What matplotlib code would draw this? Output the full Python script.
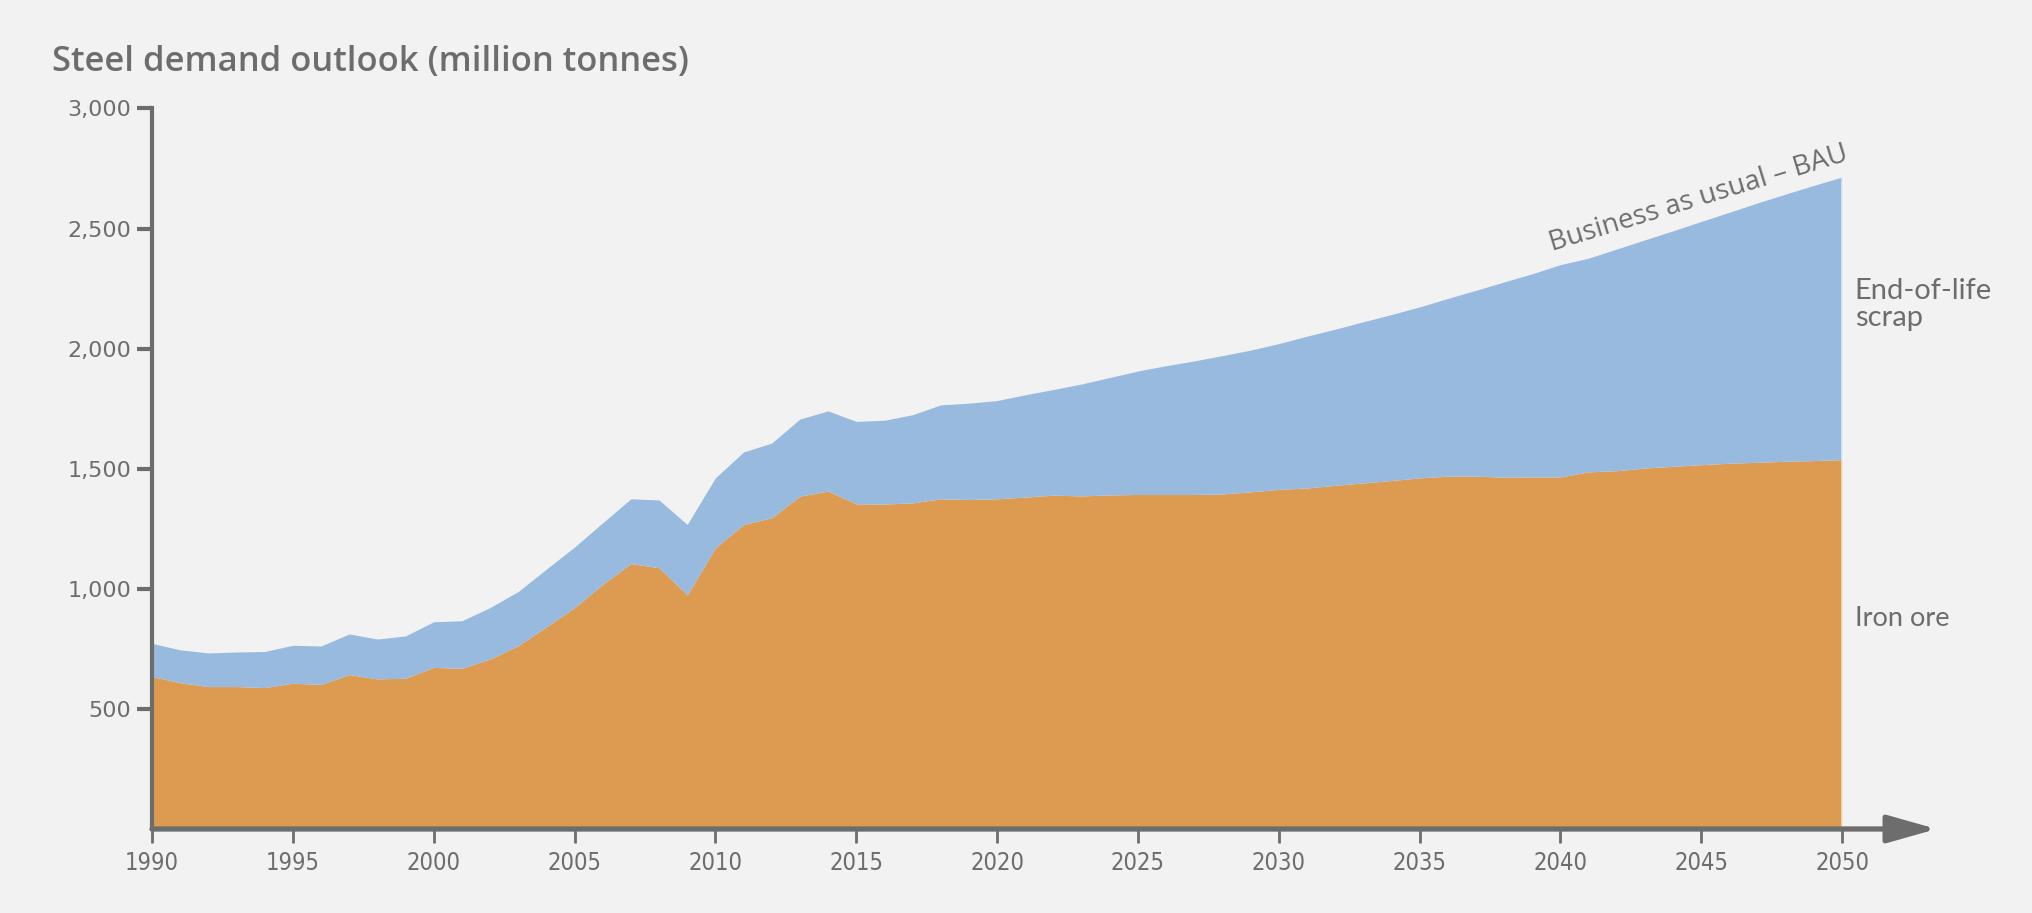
import matplotlib.pyplot as plt
import numpy as np

years = np.arange(1990, 2051)

# total steel demand, BAU (top of the blue band), million tonnes
total = [773, 746, 733, 737, 739, 765, 762, 812, 791, 804,
         863, 867, 922, 989, 1082, 1174, 1275, 1375, 1370, 1268,
         1462, 1570, 1607, 1707, 1741, 1697, 1702, 1725, 1766, 1773,
         1784, 1808, 1830, 1853, 1880, 1907, 1929, 1949, 1971, 1994,
         2021, 2052, 2081, 2112, 2142, 2174, 2209, 2243, 2278, 2312,
         2350, 2377, 2415, 2453, 2491, 2530, 2568, 2607, 2644, 2680,
         2715]

# iron ore based part (orange)
iron_ore = [635, 609, 593, 593, 589, 607, 602, 643, 625, 628,
            673, 669, 708, 763, 842, 922, 1019, 1105, 1088, 975,
            1171, 1268, 1296, 1386, 1407, 1354, 1353, 1358, 1375, 1372,
            1375, 1382, 1390, 1387, 1391, 1393, 1393, 1393, 1395, 1404,
            1414, 1420, 1431, 1441, 1451, 1462, 1469, 1469, 1465, 1466,
            1466, 1487, 1492, 1503, 1510, 1517, 1523, 1527, 1531, 1534,
            1538]

xticks = np.arange(1990, 2051, 5)
yticks = [500, 1000, 1500, 2000, 2500, 3000]

bg = '#f2f2f2'
grey = '#6d6d6d'
orange = '#dd9b52'
blue = '#98badf'

fig = plt.figure(figsize=(20.33, 9.13), dpi=100, facecolor=bg)
ax = fig.add_axes([152 / 2033, 84 / 913, 1800 / 2033, 720.5 / 913])
ax.set_facecolor(bg)

ax.fill_between(years, 0, iron_ore, color=orange, lw=0, zorder=2)
ax.fill_between(years, iron_ore, total, color=blue, lw=0, zorder=2)
ax.vlines(years[-1], 0, total[-1], color='white', lw=2, alpha=0.6, zorder=2)

ax.set_xlim(1990, 2053.9)
ax.set_ylim(0, 3000)

for s in ['top', 'right', 'bottom']:
    ax.spines[s].set_visible(False)
ax.spines['left'].set_bounds(0, 3000)
ax.spines['left'].set_color(grey)
ax.spines['left'].set_linewidth(3)
ax.spines['left'].set_zorder(4)

# x axis with arrow
ax.annotate('', xy=(2053.35, 0), xytext=(1990, 0),
            arrowprops=dict(arrowstyle='-|>,head_length=3.0,head_width=0.85',
                            lw=3.8, color=grey, shrinkA=0, shrinkB=0),
            annotation_clip=False, zorder=5)

ax.set_xticks(xticks)
ax.set_xticklabels([str(x) for x in xticks], family='DejaVu Sans',
                   stretch='condensed', fontsize=17)
ax.set_yticks(yticks)
ax.set_yticklabels(['{:,}'.format(y) for y in yticks], family='DejaVu Sans', fontsize=16)
ax.tick_params(axis='x', length=10, width=2, color=grey, labelcolor=grey, pad=6)
ax.tick_params(axis='y', length=11, width=3, color=grey, labelcolor=grey, pad=4)

fig.text(52 / 2033, 1 - 62 / 913, 'Steel demand outlook (million tonnes)',
         fontsize=24.8, color=grey, family='Open Sans', weight='semibold', va='center')

ax.text(2050.45, 2182, 'End-of-life\nscrap', fontsize=21, color=grey,
        family='Lato', ha='left', va='center', linespacing=1.05)
ax.text(2050.45, 875, 'Iron ore', fontsize=19.5, color=grey,
        family='Lato', ha='left', va='center')
ax.text(2044.9, 2625, 'Business as usual \u2013 BAU', fontsize=20, color=grey,
        family='Open Sans', ha='center', va='center', rotation=17,
        rotation_mode='anchor')

fig.savefig('out.png', dpi=100, facecolor=bg)
